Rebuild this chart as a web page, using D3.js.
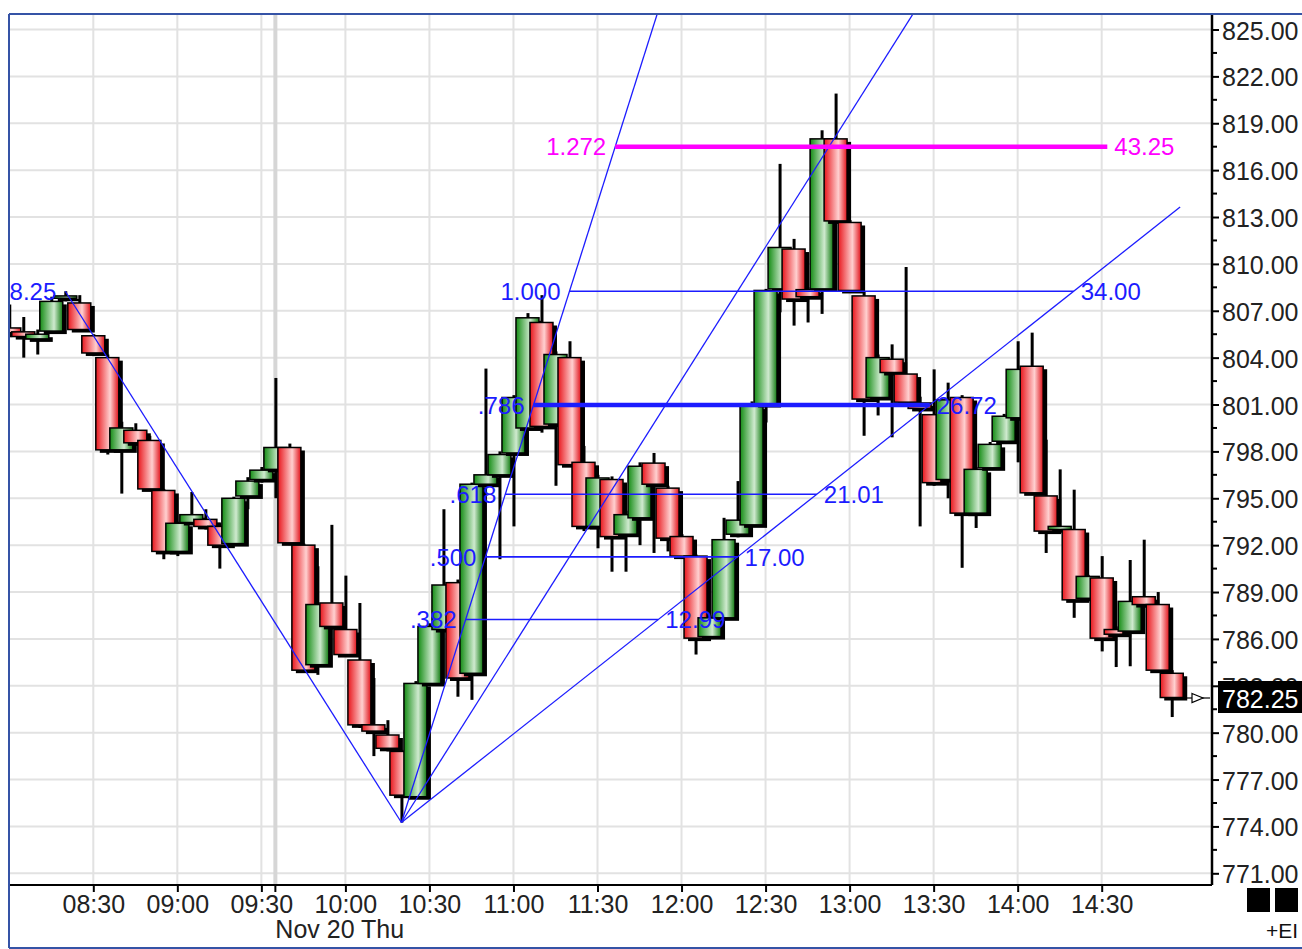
<!DOCTYPE html>
<html>
<head>
<meta charset="utf-8">
<script src="https://cdn.jsdelivr.net/npm/d3@7"></script>
<style>
body{margin:0;background:#fff}
svg{display:block}
text{font-family:"Liberation Sans",Arial,sans-serif}
</style>
</head>
<body>
<script>
// 5 minute bars, Nov 20
var times = ["08:00","08:05","08:10","08:15","08:20","08:25","08:30","08:35","08:40","08:45","08:50","08:55",
             "09:00","09:05","09:10","09:15","09:20","09:25","09:30","09:35","09:40","09:45","09:50","09:55",
             "10:00","10:05","10:10","10:15","10:20","10:25","10:30","10:35","10:40","10:45","10:50","10:55",
             "11:00","11:05","11:10","11:15","11:20","11:25","11:30","11:35","11:40","11:45","11:50","11:55",
             "12:00","12:05","12:10","12:15","12:20","12:25","12:30","12:35","12:40","12:45","12:50","12:55",
             "13:00","13:05","13:10","13:15","13:20","13:25","13:30","13:35","13:40","13:45","13:50","13:55",
             "14:00","14:05","14:10","14:15","14:20","14:25","14:30","14:35","14:40","14:45","14:50","14:55"];
var opens  = [805.9,805.65,805.2,805.7,807.8,807.5,805.4,804.0,798.1,799.35,798.7,795.5,
              791.6,793.45,793.65,793.2,792.1,795.15,796.2,796.85,798.25,792.0,784.35,788.3,
              786.6,784.65,780.5,779.85,778.8,775.9,783.15,786.6,789.6,783.8,795.9,796.5,
              797.9,799.5,806.25,799.75,804.0,797.3,793.2,796.2,792.7,793.75,797.25,795.65,
              792.55,791.3,786.15,787.35,792.7,793.3,801.0,808.4,810.95,808.35,808.4,818.0,
              812.65,807.95,801.45,803.9,802.95,801.1,800.35,796.2,801.45,794.05,796.95,798.65,
              800.15,803.45,795.15,793.0,793.0,788.6,789.9,786.6,786.5,788.7,788.2,783.8];
var highs  = [807.4,806.6,805.8,807.9,808.25,808.0,805.5,804.2,799.9,799.8,799.0,795.6,
              793.5,795.4,794.3,793.4,795.1,796.35,797.0,802.7,798.5,792.1,790.65,793.3,
              790.05,788.3,783.5,780.8,778.9,783.3,787.0,794.3,789.8,796.0,803.3,798.0,
              801.6,806.85,808.0,804.4,805.05,798.35,796.5,796.4,794.2,797.3,797.9,795.8,
              792.7,791.4,787.5,793.75,796.1,801.2,808.4,816.4,811.6,808.5,818.55,820.9,
              812.8,808.2,804.2,804.85,809.8,801.5,803.25,802.4,801.6,797.0,798.6,800.4,
              805.05,805.6,798.75,796.85,795.55,790.1,791.3,786.8,791.05,792.35,789.0,784.0];
var lows   = [805.3,804.0,804.2,805.6,807.6,805.7,804.1,797.8,795.3,798.4,795.5,791.1,
              791.3,793.3,793.0,790.5,792.0,794.3,796.0,795.0,792.0,783.9,783.7,786.6,
              784.9,780.3,778.5,778.8,774.25,775.8,783.0,786.5,782.3,782.1,795.8,791.1,
              793.2,799.4,799.2,795.8,797.0,792.9,791.8,790.3,790.3,792.0,791.5,791.6,
              791.2,785.0,786.0,787.2,792.5,793.2,799.85,806.9,806.05,806.25,806.8,812.6,
              808.2,799.0,800.3,798.9,800.9,793.2,795.8,795.0,790.55,793.1,796.9,798.5,
              797.3,795.2,791.5,792.8,787.35,788.5,785.2,784.2,784.25,788.0,783.9,781.0];
var closes = [805.6,805.35,805.5,807.6,807.95,805.8,804.3,798.1,799.5,798.55,795.6,791.6,
              793.4,793.95,793.2,792.0,795.0,796.1,796.8,798.25,792.15,784.0,788.2,786.8,
              785.0,780.5,780.1,779.0,776.0,783.15,786.8,789.45,783.5,795.9,796.5,797.8,
              801.45,806.55,799.6,804.2,797.15,793.2,796.3,792.55,793.95,797.05,795.9,792.45,
              791.3,786.05,787.35,792.35,793.6,800.9,808.3,811.05,807.75,807.9,818.0,812.75,
              808.3,801.35,804.0,803.05,801.15,800.75,796.0,801.3,794.05,796.85,798.45,800.25,
              803.25,795.35,792.9,793.2,788.5,790.0,786.05,786.3,788.4,788.2,784.0,782.25];

var priceTicks = [771,774,777,780,783,786,789,792,795,798,801,804,807,810,813,816,819,822,825];
var timeTicks = ["08:30","09:00","09:30","10:00","10:30","11:00","11:30","12:00","12:30","13:00","13:30","14:00","14:30"];
var sessionStart = "09:35";
var dateLabel = "Nov 20 Thu";
var lastPrice = 782.25;

// swing used by the fib / fan drawing tools
var swingHighTime = "08:20", swingHighPrice = 808.25;
var swingLowTime = "10:20", swingLowPrice = 774.25;
var fibRatios = [".382", ".500", ".618", ".786", "1.000", "1.272"];
var fibValues = ["12.99", "17.00", "21.01", "26.72", "34.00", "43.25"];
var fanMultipliers = [2, 1, 0.5];
var fanEndTime = "14:58";
var fibCapTime = "14:32";

var W = 1302, H = 949;
var plot = {left: 9, right: 1212, top: 14, bottom: 885};

var parse = d3.timeParse("%H:%M");
var fmt = d3.timeFormat("%H:%M");

var x = d3.scaleTime()
    .domain([parse("08:30"), parse("14:30")])
    .range([93.3, 1101.7]);
var y = d3.scaleLinear()
    .domain([771, 825])
    .range([873.3, 29.5]);

var bars = times.map(function(t, i){
    return {t: parse(t), o: opens[i], h: highs[i], l: lows[i], c: closes[i]};
});

var svg = d3.select("body").append("svg")
    .attr("width", W).attr("height", H);

var defs = svg.append("defs");
function grad(id, edge, mid, edge2){
    var g = defs.append("linearGradient").attr("id", id)
        .attr("x1", 0).attr("x2", 1).attr("y1", 0).attr("y2", 0);
    g.append("stop").attr("offset", "0%").attr("stop-color", edge);
    g.append("stop").attr("offset", "62%").attr("stop-color", mid);
    g.append("stop").attr("offset", "100%").attr("stop-color", edge2);
}
grad("redGrad", "#e8161c", "#ffd0d0", "#e01018");
grad("greenGrad", "#148c14", "#cfeacf", "#0f7a0f");

defs.append("clipPath").attr("id", "plotClip")
  .append("rect")
    .attr("x", plot.left).attr("y", plot.top)
    .attr("width", plot.right - plot.left).attr("height", plot.bottom - plot.top);

svg.append("rect").attr("width", W).attr("height", H).attr("fill", "#fff");

var g = svg.append("g").attr("clip-path", "url(#plotClip)");

//grid
g.append("g").selectAll("line").data(priceTicks).enter().append("line")
    .attr("x1", plot.left).attr("x2", plot.right)
    .attr("y1", function(d){return y(d)}).attr("y2", function(d){return y(d)})
    .attr("stroke", "#e2e2e2").attr("stroke-width", 2);
g.append("g").selectAll("line").data(timeTicks).enter().append("line")
    .attr("x1", function(d){return x(parse(d))}).attr("x2", function(d){return x(parse(d))})
    .attr("y1", plot.top).attr("y2", plot.bottom)
    .attr("stroke", "#e2e2e2").attr("stroke-width", 2);
g.append("line")
    .attr("x1", x(parse(sessionStart))).attr("x2", x(parse(sessionStart)))
    .attr("y1", plot.top).attr("y2", plot.bottom)
    .attr("stroke", "#d6d6d6").attr("stroke-width", 4);

//candles
var half = 11.5;
var candle = g.append("g").selectAll("g").data(bars).enter().append("g");
candle.append("rect")//drop shadow
    .attr("x", function(d){return x(d.t) - half + 4})
    .attr("y", function(d){return y(Math.max(d.o, d.c)) + 3})
    .attr("width", half * 2)
    .attr("height", function(d){return Math.max(2, y(Math.min(d.o, d.c)) - y(Math.max(d.o, d.c)))})
    .attr("fill", "#000");
candle.append("line")//wick
    .attr("x1", function(d){return x(d.t) + 0.5}).attr("x2", function(d){return x(d.t) + 0.5})
    .attr("y1", function(d){return y(d.h)}).attr("y2", function(d){return y(d.l)})
    .attr("stroke", "#000").attr("stroke-width", 3);
candle.append("rect")//body
    .attr("x", function(d){return x(d.t) - half})
    .attr("y", function(d){return y(Math.max(d.o, d.c))})
    .attr("width", half * 2)
    .attr("height", function(d){return Math.max(2, y(Math.min(d.o, d.c)) - y(Math.max(d.o, d.c)))})
    .attr("fill", function(d){return d.c >= d.o ? "url(#greenGrad)" : "url(#redGrad)"})
    .attr("stroke", "#000").attr("stroke-width", 1.5);

//zigzag + fan
var blue = "#1c1cff";
var tHigh = parse(swingHighTime), tLow = parse(swingLowTime);
var legMin = (tLow - tHigh) / 60000;
var legRate = (swingHighPrice - swingLowPrice) / legMin; // points per minute
function atMin(m){ return new Date(+tLow + m * 60000) }

g.append("line")
    .attr("x1", x(tHigh)).attr("y1", y(swingHighPrice))
    .attr("x2", x(tLow)).attr("y2", y(swingLowPrice))
    .attr("stroke", blue).attr("stroke-width", 1.3);

var fanMin = (parse(fanEndTime) - tLow) / 60000;
g.append("g").selectAll("line").data(fanMultipliers).enter().append("line")
    .attr("x1", x(tLow)).attr("y1", y(swingLowPrice))
    .attr("x2", x(atMin(fanMin)))
    .attr("y2", function(m){return y(swingLowPrice + m * legRate * fanMin)})
    .attr("stroke", blue).attr("stroke-width", 1.3);

//fib levels, bounded by steepest and flattest fan lines
var steep = d3.max(fanMultipliers) * legRate, flat = d3.min(fanMultipliers) * legRate;
var capMin = (parse(fibCapTime) - tLow) / 60000;
var fibs = fibRatios.map(function(r, i){
    var v = +fibValues[i];
    return {ratio: r, label: fibValues[i], price: swingLowPrice + v,
            x1: x(atMin(v / steep)), x2: x(atMin(Math.min(v / flat, capMin)))};
});
function fibColor(d){ return d.ratio == "1.272" ? "#ff00ff" : blue }
function fibWidth(d){ return (d.ratio == "1.272" || d.ratio == ".786") ? 4.5 : 1.6 }

var fg = g.append("g");
fg.selectAll("line").data(fibs).enter().append("line")
    .attr("x1", function(d){return d.x1}).attr("x2", function(d){return d.x2})
    .attr("y1", function(d){return y(d.price)}).attr("y2", function(d){return y(d.price)})
    .attr("stroke", fibColor).attr("stroke-width", fibWidth);
fg.selectAll("text.l").data(fibs).enter().append("text").attr("class", "l")
    .attr("x", function(d){return d.x1 - 9}).attr("y", function(d){return y(d.price)})
    .attr("dy", "0.36em").attr("text-anchor", "end")
    .attr("font-size", 24).attr("fill", fibColor)
    .text(function(d){return d.ratio});
fg.selectAll("text.r").data(fibs).enter().append("text").attr("class", "r")
    .attr("x", function(d){return d.x2 + 7}).attr("y", function(d){return y(d.price)})
    .attr("dy", "0.36em").attr("text-anchor", "start")
    .attr("font-size", 24).attr("fill", fibColor)
    .text(function(d){return d.label});
fg.append("text")
    .attr("x", x(tHigh) - 9).attr("y", y(swingHighPrice))
    .attr("dy", "0.36em").attr("text-anchor", "end")
    .attr("font-size", 24).attr("fill", blue)
    .text(d3.format(".2f")(swingHighPrice));

//last price marker
var lastX = x(bars[bars.length - 1].t);
var ly = Math.round(y(lastPrice));
svg.append("line")
    .attr("x1", lastX + 14).attr("x2", plot.right - 2)
    .attr("y1", ly).attr("y2", ly)
    .attr("stroke", "#000").attr("stroke-width", 1.2);
svg.append("path")
    .attr("d", "M" + (plot.right - 20) + "," + (ly - 4.5) + "L" + (plot.right - 9) + "," + ly +
               "L" + (plot.right - 20) + "," + (ly + 4.5) + "Z")
    .attr("fill", "#fff").attr("stroke", "#000").attr("stroke-width", 1.2);

//right price axis
var yAxis = svg.append("g")
    .attr("transform", "translate(" + plot.right + ",0)")
    .call(d3.axisRight(y).tickValues(priceTicks).tickFormat(d3.format(".2f"))
        .tickSize(7).tickPadding(3));
yAxis.select(".domain").remove();
yAxis.selectAll("line").attr("stroke", "#000").attr("stroke-width", 2);
yAxis.selectAll("text").attr("font-size", 25).attr("font-family", "Liberation Sans, Arial, sans-serif")
    .attr("fill", "#222").attr("dy", "0.38em");
svg.append("g").selectAll("line").data(priceTicks.slice(0, -1)).enter().append("line")
    .attr("x1", plot.right).attr("x2", plot.right + 5)
    .attr("y1", function(d){return y(d + 1.5)}).attr("y2", function(d){return y(d + 1.5)})
    .attr("stroke", "#000").attr("stroke-width", 2);

//last price box
svg.append("rect")
    .attr("x", plot.right + 6).attr("y", ly - 17)
    .attr("width", W - plot.right - 6).attr("height", 32)
    .attr("fill", "#000");
svg.append("text")
    .attr("x", plot.right + 10).attr("y", ly)
    .attr("dy", "0.38em").attr("font-size", 25).attr("fill", "#fff")
    .text(d3.format(".2f")(lastPrice));

//bottom time axis
var xAxis = svg.append("g")
    .attr("transform", "translate(0," + plot.bottom + ")")
    .call(d3.axisBottom(x).tickValues(timeTicks.map(parse)).tickFormat(fmt)
        .tickSize(7).tickPadding(3));
xAxis.select(".domain").remove();
xAxis.selectAll("line").attr("stroke", "#000").attr("stroke-width", 2);
xAxis.selectAll("text").attr("font-size", 25).attr("font-family", "Liberation Sans, Arial, sans-serif")
    .attr("fill", "#222");
svg.append("line")
    .attr("x1", x(parse(sessionStart))).attr("x2", x(parse(sessionStart)))
    .attr("y1", plot.bottom).attr("y2", plot.bottom + 7)
    .attr("stroke", "#000").attr("stroke-width", 2);
svg.append("text")
    .attr("x", x(parse(sessionStart))).attr("y", 938)
    .attr("font-size", 25).attr("fill", "#222")
    .text(dateLabel);

//plot borders
svg.append("line").attr("x1", plot.left).attr("x2", plot.right)
    .attr("y1", plot.bottom).attr("y2", plot.bottom)
    .attr("stroke", "#000").attr("stroke-width", 2);
svg.append("line").attr("x1", plot.right).attr("x2", plot.right)
    .attr("y1", plot.top).attr("y2", plot.bottom)
    .attr("stroke", "#000").attr("stroke-width", 2.5);

//outer frame
var frame = "#3553a6";
svg.append("line").attr("x1", plot.left).attr("x2", W).attr("y1", plot.top).attr("y2", plot.top)
    .attr("stroke", frame).attr("stroke-width", 2);
svg.append("line").attr("x1", plot.left).attr("x2", plot.left).attr("y1", plot.top).attr("y2", H - 1)
    .attr("stroke", frame).attr("stroke-width", 2);
svg.append("line").attr("x1", plot.left).attr("x2", W).attr("y1", H - 1).attr("y2", H - 1)
    .attr("stroke", frame).attr("stroke-width", 2);

//corner widget
svg.append("rect").attr("x", 1247).attr("y", 888).attr("width", 23).attr("height", 24).attr("fill", "#000");
svg.append("rect").attr("x", 1275).attr("y", 888).attr("width", 23).attr("height", 24).attr("fill", "#000");
svg.append("text").attr("x", 1298).attr("y", 938).attr("text-anchor", "end")
    .attr("font-size", 21).attr("fill", "#111").text("+EI");
</script>
</body>
</html>
